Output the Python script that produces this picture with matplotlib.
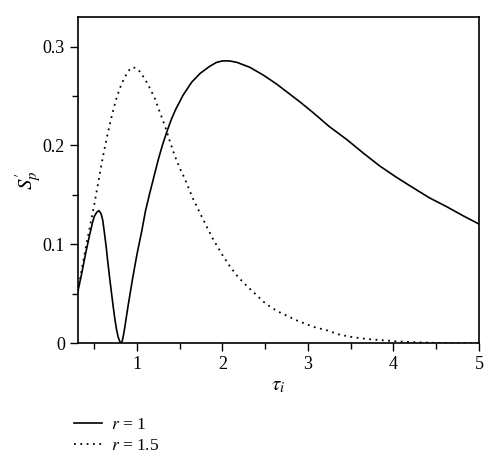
import matplotlib
matplotlib.use("Agg")
from matplotlib import pyplot as plt
from matplotlib.ticker import MultipleLocator, FuncFormatter

# r = 1 (solid)
tau_r1 = [0.31, 0.35, 0.40, 0.45, 0.48, 0.50, 0.53, 0.556, 0.58, 0.60, 0.62, 0.64,
          0.66, 0.68, 0.70, 0.72, 0.74, 0.76, 0.78, 0.80, 0.815, 0.83, 0.85, 0.875,
          0.90, 0.95, 1.00, 1.055, 1.10, 1.15, 1.20, 1.25, 1.30, 1.35, 1.40, 1.45,
          1.54, 1.64, 1.74, 1.85, 1.93, 2.00, 2.08, 2.17, 2.32, 2.48, 2.634, 2.77,
          2.906, 3.062, 3.25, 3.453, 3.65, 3.842, 4.03, 4.232, 4.42, 4.622, 4.81, 5.00]
sp_r1 = [0.053, 0.069, 0.091, 0.111, 0.122, 0.128, 0.1325, 0.134, 0.131, 0.124,
         0.111, 0.097, 0.081, 0.066, 0.052, 0.038, 0.025, 0.014, 0.006, 0.0012, 0.0,
         0.003, 0.012, 0.026, 0.040, 0.066, 0.090, 0.113, 0.134, 0.152, 0.169, 0.186,
         0.201, 0.214, 0.226, 0.236, 0.251, 0.264, 0.273, 0.280, 0.284, 0.2855,
         0.2855, 0.284, 0.279, 0.271, 0.262, 0.253, 0.244, 0.233, 0.219, 0.206,
         0.192, 0.179, 0.168, 0.157, 0.147, 0.138, 0.129, 0.1205]

# r = 1.5 (dotted)
tau_r15 = [0.31, 0.35, 0.40, 0.45, 0.50, 0.55, 0.60, 0.65, 0.70, 0.75, 0.80, 0.85,
           0.90, 0.94, 0.98, 1.03, 1.094, 1.15, 1.211, 1.27, 1.327, 1.385, 1.444,
           1.50, 1.561, 1.65, 1.74, 1.82, 1.893, 2.00, 2.088, 2.18, 2.283, 2.38,
           2.477, 2.57, 2.672, 2.77, 2.868, 2.97, 3.08, 3.22, 3.35, 3.49, 3.68, 3.88,
           4.07, 4.27, 4.50, 5.00]
sp_r15 = [0.052, 0.073, 0.096, 0.118, 0.140, 0.164, 0.188, 0.209, 0.228, 0.245,
          0.258, 0.268, 0.2755, 0.279, 0.2785, 0.275, 0.267, 0.258, 0.247, 0.233,
          0.2196, 0.204, 0.189, 0.177, 0.166, 0.147, 0.131, 0.117, 0.1046, 0.089,
          0.0775, 0.067, 0.058, 0.050, 0.042, 0.036, 0.031, 0.027, 0.023, 0.0195,
          0.016, 0.013, 0.009, 0.0064, 0.0042, 0.0028, 0.0016, 0.0008, 0.0002, 0.0]

plt.rcParams["font.family"] = ["Liberation Serif", "DejaVu Serif"]
plt.rcParams["mathtext.fontset"] = "stix"

fig = plt.figure(figsize=(5.0, 4.7), dpi=100)
ax = fig.add_axes([0.156, 0.270, 0.802, 0.694])

l1, = ax.plot(tau_r1, sp_r1, '-', color="black", lw=1.2, label="$r$ = 1")
l2, = ax.plot(tau_r15, sp_r15, linestyle=(0, (1, 2.5)), color="black", lw=1.3,
              label="$r$ = 1.5")

ax.set_xlim(0.31, 5)
ax.set_ylim(0, 0.33)
ax.xaxis.set_major_locator(MultipleLocator(1))
ax.xaxis.set_minor_locator(MultipleLocator(0.5))
ax.yaxis.set_major_locator(MultipleLocator(0.1))
ax.yaxis.set_minor_locator(MultipleLocator(0.05))
ax.yaxis.set_major_formatter(FuncFormatter(lambda v, p: "0" if abs(v) < 1e-9 else f"{v:.1f}"))
ax.tick_params(which="major", direction="out", length=6, width=1, labelsize=13)
ax.tick_params(which="minor", direction="out", length=4, width=1)
ax.tick_params(top=False, right=False, which="both")
for s in ax.spines.values():
    s.set_linewidth(1.2)

ax.set_xlabel(r"$\tau_i$", fontsize=15, labelpad=2)
ax.set_ylabel(r"$S^{\prime}_p$", fontsize=15, labelpad=-1)

fig.legend(handles=[l1, l2], loc="upper left", bbox_to_anchor=(0.135, 0.127),
           frameon=False, fontsize=12.5, handlelength=1.6, handletextpad=0.5,
           labelspacing=0.25, borderaxespad=0)

fig.savefig("out.png", dpi=100)
